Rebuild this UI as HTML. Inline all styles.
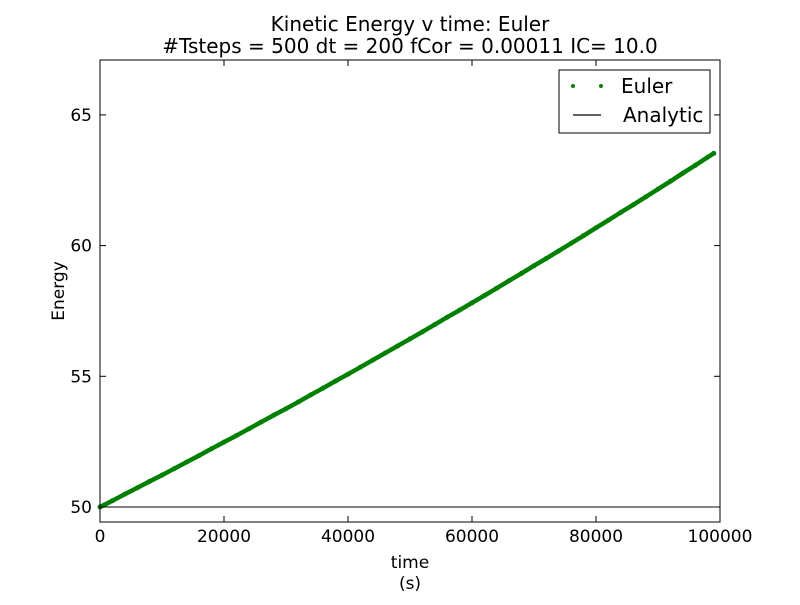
<!DOCTYPE html>
<html><head><meta charset="utf-8"><style>
body{margin:0;background:#fff;}
svg text{font-family:"DejaVu Sans","Liberation Sans",sans-serif;fill:#000;}
</style></head><body>
<svg id="chart" width="800" height="600" xmlns="http://www.w3.org/2000/svg">
<rect width="800" height="600" fill="#fff"/>
<text x="410" y="31" font-size="20" text-anchor="middle">Kinetic Energy v time: Euler</text>
<text x="410" y="53" font-size="20" text-anchor="middle">#Tsteps = 500 dt = 200 fCor = 0.00011 IC= 10.0</text>
<g id="plot"></g>
<text x="410" y="568" font-size="17" text-anchor="middle">time</text>
<text x="410" y="589" font-size="17" text-anchor="middle">(s)</text>
<text x="0" y="0" font-size="17" text-anchor="middle" transform="translate(64,291) rotate(-90)">Energy</text>
<g>
<rect x="559" y="70" width="151" height="63" fill="#fff" stroke="#000" stroke-width="1"/>
<circle cx="573" cy="86" r="2" fill="#008000"/>
<circle cx="601" cy="86" r="2" fill="#008000"/>
<text x="621" y="93" font-size="20">Euler</text>
<line x1="573" y1="115" x2="601" y2="115" stroke="#000" stroke-width="1.2"/>
<text x="623" y="122" font-size="20">Analytic</text>
</g>
</svg>
<script>
const times = [0,2000,4000,6000,8000,10000,12000,14000,16000,18000,20000,22000,24000,26000,28000,30000,32000,34000,36000,38000,40000,42000,44000,46000,48000,50000,52000,54000,56000,58000,60000,62000,64000,66000,68000,70000,72000,74000,76000,78000,80000,82000,84000,86000,88000,90000,92000,94000,96000,98000,99000];
const eulerEnergy = [50.00,50.24,50.49,50.73,50.98,51.22,51.47,51.72,51.97,52.23,52.48,52.73,52.99,53.25,53.51,53.76,54.02,54.29,54.55,54.82,55.08,55.35,55.62,55.89,56.16,56.43,56.70,56.98,57.26,57.53,57.81,58.09,58.37,58.66,58.94,59.23,59.51,59.80,60.09,60.38,60.68,60.97,61.27,61.56,61.86,62.16,62.46,62.77,63.07,63.38,63.53];
const analyticEnergy = [50, 50];
const analyticTimes = [0, 99000];
const xTicks = [0,20000,40000,60000,80000,100000];
const yTicks = [50,55,60,65];

const L=100,R=720,T=60,B=522;
const xMin=0,xMax=100000,yMin=49.426,yMax=67.1;
const xs=v=>L+(v-xMin)/(xMax-xMin)*(R-L);
const ys=v=>B-(v-yMin)/(yMax-yMin)*(B-T);
const NS="http://www.w3.org/2000/svg";
const g=document.getElementById('plot');
function mk(tag,attrs){const e=document.createElementNS(NS,tag);for(const k in attrs)e.setAttribute(k,attrs[k]);g.appendChild(e);return e;}

const al=mk('polyline',{points:analyticTimes.map((t,i)=>xs(t)+','+ys(analyticEnergy[i])).join(' '),fill:'none',stroke:'#000','stroke-width':1});



const el=mk('polyline',{points:times.map((t,i)=>xs(t)+','+ys(eulerEnergy[i])).join(' '),fill:'none',stroke:'#008000','stroke-width':4.5,'stroke-linecap':'round'});


times.forEach((t,i)=>{
  const c=mk('circle',{cx:xs(t),cy:ys(eulerEnergy[i]),r:2.5,fill:'#008000'});
  
  
});

const fr=mk('rect',{x:L,y:T,width:R-L,height:B-T,fill:'none',stroke:'#000','stroke-width':1});



xTicks.forEach(v=>{
  const x=xs(v);
  mk('line',{x1:x,y1:B,x2:x,y2:B-6,stroke:'#000'});
  mk('line',{x1:x,y1:T,x2:x,y2:T+6,stroke:'#000'});
  const tx=mk('text',{x:x,y:B+20,'font-size':17,'text-anchor':'middle'});
  tx.textContent=v;
  
  
});
yTicks.forEach(v=>{
  const y=ys(v);
  mk('line',{x1:L,y1:y,x2:L+6,y2:y,stroke:'#000'});
  mk('line',{x1:R,y1:y,x2:R-6,y2:y,stroke:'#000'});
  const tx=mk('text',{x:L-8,y:y+6,'font-size':17,'text-anchor':'end'});
  tx.textContent=v;
  
  
});
</script>
</body></html>
